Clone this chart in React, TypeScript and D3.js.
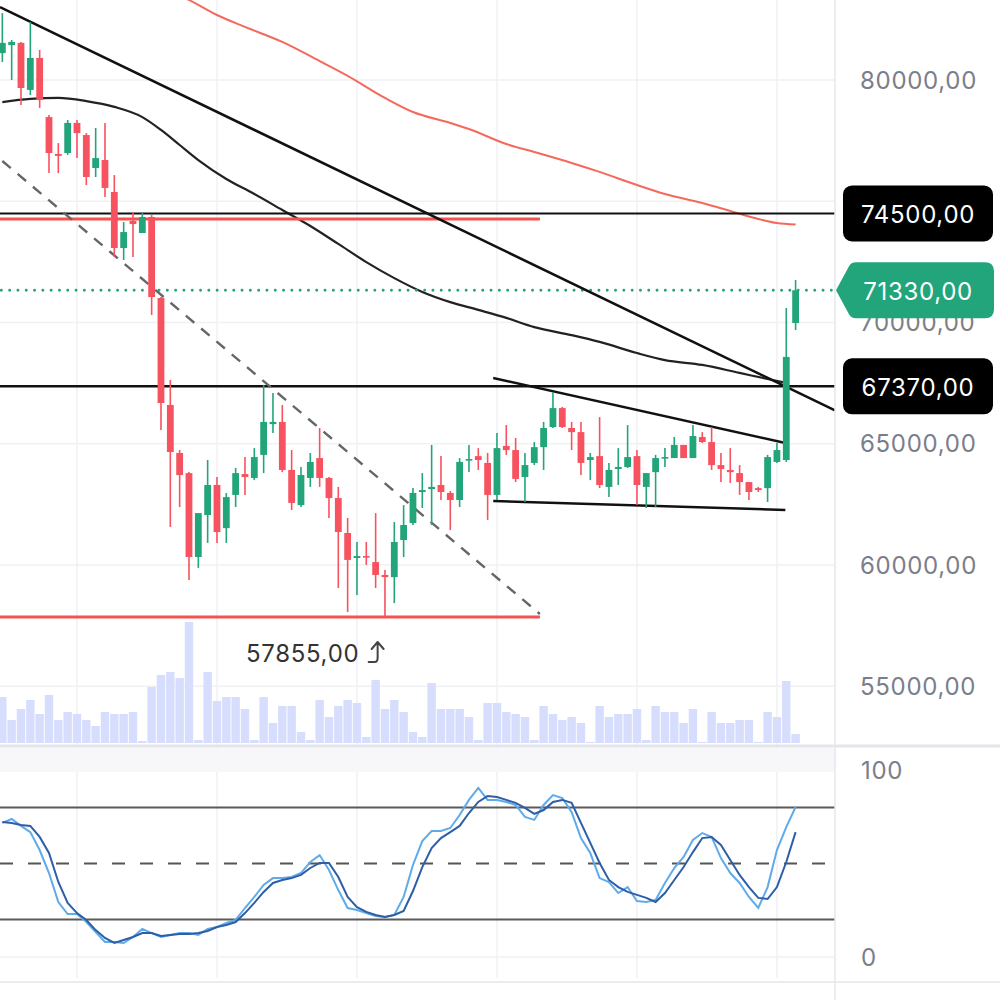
import React from 'react';
import * as d3 from 'd3';

// candles (index 0 = first visible bar)
const opens = [81110, 81440, 81530, 79590, 80910, 78470, 76950, 76990, 78230, 77730, 76370, 76700, 75380, 73070, 74190, 73690, 74350, 71010, 66600, 64620, 63790, 60330, 62060, 63300, 61520, 62890, 63750, 63590, 64540, 65810, 65900, 63920, 62470, 63590, 64410, 63590, 62760, 61320, 60290, 60370, 60120, 59590, 59500, 61030, 61730, 63010, 63130, 63300, 62970, 62680, 64330, 64490, 64210, 62890, 64910, 64740, 63630, 64210, 64860, 65690, 66470, 65650, 65480, 64330, 64490, 63220, 63960, 64040, 64490, 63220, 63830, 64410, 64410, 64950, 64410, 65280, 65070, 64120, 63920, 63790, 63420, 63170, 63170, 64250, 64330, 69980];
const highs = [82760, 81650, 81570, 82390, 81240, 78560, 77400, 78350, 78350, 77810, 78020, 78230, 76080, 74140, 74560, 74520, 74430, 71050, 67630, 64740, 63830, 62140, 64330, 63630, 62970, 64000, 64450, 64820, 67430, 67090, 66600, 64740, 64040, 64620, 65650, 63630, 63220, 61940, 60950, 60950, 62140, 59790, 61770, 62470, 63180, 63790, 64950, 64490, 63050, 64410, 64950, 64820, 64620, 65440, 65770, 65240, 64620, 65070, 65900, 67130, 66520, 65900, 65900, 64620, 66100, 64210, 64820, 65770, 64740, 63790, 64540, 64820, 65280, 64950, 65770, 65480, 65690, 64620, 64820, 64120, 63420, 63220, 64540, 65030, 70600, 71750];
const lows = [80740, 80000, 78970, 79380, 78850, 76160, 76160, 76910, 76780, 75670, 76000, 75180, 72700, 72580, 72700, 73690, 70310, 65570, 61570, 62390, 59380, 59880, 60910, 60910, 60910, 62390, 62890, 63500, 63790, 65440, 63830, 62270, 62390, 63220, 63220, 61940, 59050, 58060, 58760, 60000, 59050, 57855, 58430, 60330, 61650, 62350, 61650, 62680, 61440, 62390, 63830, 63920, 61860, 62680, 64540, 63420, 62600, 64120, 63920, 65650, 65650, 64740, 63710, 63500, 63170, 62800, 63300, 64000, 62470, 62350, 62390, 64040, 64410, 64410, 64410, 65030, 63920, 63420, 63380, 62890, 62680, 63010, 62600, 64210, 64250, 69690];
const closes = [81530, 81570, 79670, 80910, 79180, 76990, 76870, 78230, 77810, 76000, 76780, 75550, 73070, 73730, 74060, 74350, 71050, 66680, 64660, 63710, 60330, 62140, 63300, 61360, 62800, 63790, 63630, 64450, 65900, 65900, 63920, 62560, 63710, 64250, 63590, 62760, 61360, 60210, 60370, 60330, 59590, 59500, 60950, 61650, 62970, 63090, 63220, 63010, 62680, 64250, 64370, 64330, 62890, 64820, 64740, 63550, 64120, 64860, 65650, 66470, 65690, 65480, 64210, 64450, 63300, 63920, 64040, 64450, 63300, 63790, 64410, 64450, 64950, 64410, 65320, 65070, 64120, 63960, 63830, 63420, 63010, 63090, 64450, 64740, 68580, 71330];
const volumes = [46, 23, 34, 43, 29, 48, 23, 31, 29, 23, 17, 31, 29, 29, 31, 2, 56, 68, 71, 65, 121, 3, 71, 42, 46, 46, 34, 3, 46, 20, 37, 37, 11, 3, 43, 26, 37, 43, 40, 6, 63, 34, 43, 31, 11, 6, 60, 34, 34, 34, 26, 3, 40, 40, 31, 29, 26, 3, 37, 29, 23, 26, 20, 1, 37, 26, 29, 29, 34, 3, 37, 31, 31, 20, 34, 1, 31, 20, 20, 23, 23, 1, 31, 26, 62, 9];

// stochastic %K and %D
const stochK = [71.7, 73.8, 70.1, 66.8, 57.2, 44.9, 29.4, 23, 23, 18.7, 13.4, 8, 8, 7.5, 10.7, 15, 12.8, 10.7, 11.8, 12.8, 12.8, 11.8, 15, 16, 18.2, 19.8, 26.2, 32.1, 38.5, 42.2, 42.2, 42.8, 44.9, 50.8, 54.5, 46.5, 35.8, 26.2, 25.1, 23.5, 21.9, 21.4, 22.5, 32.1, 49.2, 62, 67.4, 67.4, 69, 75.9, 84, 90.4, 84, 84, 82.9, 81.3, 74.9, 73.3, 81.3, 86.6, 85, 77.5, 63.6, 55.6, 42.2, 40.1, 34.2, 37.4, 29.9, 29.4, 30.5, 39.6, 47.6, 53.5, 62.6, 66.3, 64.2, 52.9, 44.9, 39.6, 32.1, 26.2, 37.4, 57.2, 69.5, 80.2];
const stochD = [72.2, 71.7, 70.6, 70.1, 64.2, 55.6, 40.1, 28.9, 23.5, 19.8, 14.4, 10.2, 7.5, 9.1, 10.7, 12.8, 12.8, 11.2, 11.8, 12.3, 12.3, 12.8, 13.9, 16, 17.1, 18.7, 23.5, 28.9, 34.8, 39.6, 41.2, 42.2, 43.9, 47.6, 50.3, 50.3, 42.8, 32.1, 26.7, 24.1, 22.5, 21.4, 22.5, 24.6, 35.3, 48.1, 58.3, 63.6, 66.8, 70.1, 77, 82.9, 86.1, 85.6, 84, 82.4, 79.7, 76.5, 78.6, 82.9, 84, 82.4, 71.7, 61, 50.3, 41.2, 37.4, 34.8, 33.2, 31.6, 29.4, 34.2, 41.2, 48.1, 56.1, 63.6, 64.2, 59.9, 51.9, 43.9, 37.4, 31.6, 31, 37.4, 50.8, 66.8];

// moving averages, sampled at some bars
const redMaIdx = [18, 20, 23, 26, 30, 34, 37, 41, 44, 48, 50, 54, 57, 61, 64, 68, 71, 75, 78, 81, 83, 85];
const redMaVals = [83670, 83300, 82680, 82190, 81570, 80780, 80170, 79260, 78680, 78230, 77980, 77360, 77030, 76580, 76210, 75670, 75300, 74930, 74600, 74270, 74100, 74040];
const blackMaIdx = [0, 3, 6, 9, 12, 15, 17, 19, 21, 24, 27, 30, 33, 36, 39, 42, 45, 48, 51, 54, 57, 61, 64, 68, 71, 75, 79, 82, 84];
const blackMaVals = [79090, 79220, 79260, 79130, 78890, 78470, 77940, 77320, 76700, 75920, 75300, 74640, 73980, 73240, 72490, 71830, 71260, 70840, 70520, 70190, 69810, 69480, 69200, 68740, 68450, 68250, 67920, 67670, 67510];

// drawn lines: [startIdx, endIdx], [startPrice, endPrice]
const trendLongIdx = [0, 85];
const trendLongPrice = [82960, 67160];
const trendDashIdx = [0, 57.6];
const trendDashPrice = [76660, 57980];
const wedgeTopIdx = [52.6, 83.9];
const wedgeTopPrice = [67710, 65030];
const wedgeLowIdx = [52.6, 83.9];
const wedgeLowPrice = [62640, 62270];
const redLevels = [74270, 57855];
const redLevelEndIdx = 57.6;
const blackLevels = [74500, 67370];
const lastPrice = 71330;
const lowMark = 57855;

const priceTicks = [80000, 75000, 70000, 65000, 60000, 55000];
const hiddenTickLabels = [75000]; // covered by the 74500 tag
const stochTicks = [100, 0];
const stochBands = [80, 20];
const stochMid = 50;
const gridIdx = [8, 23, 38, 53, 68, 83];

const UP = '#22a57a';
const DOWN = '#f6525f';
const AXIS_TEXT = '#7b7e8a';
const FONT = 'Inter, Roboto, sans-serif';
const FS = 24;
const LS = 0.7;

const plotRight = 835;
const priceBottom = 745;

const x = d3.scaleLinear().domain([0, 85]).range([2.33, 795.6]);
const y = d3.scaleLinear().domain([80000, 60000]).range([80, 565]);
const yVol = d3.scaleLinear().domain([0, 125]).range([743, 618]);
const yStoch = d3.scaleLinear().domain([0, 100]).range([957, 770]);

const fmt = (v: number) => d3.format('.2f')(v).replace('.', ',');

const App = () => {
  const idx = d3.range(opens.length);

  const maLine = d3
    .line<[number, number]>()
    .x((d) => x(d[0]))
    .y((d) => y(d[1]))
    .curve(d3.curveMonotoneX);

  const redMa = maLine(redMaIdx.map((i, k) => [i, redMaVals[k]] as [number, number]));
  const blackMa = maLine(blackMaIdx.map((i, k) => [i, blackMaVals[k]] as [number, number]));

  const kPath = d3
    .line<number>()
    .x((i) => x(i))
    .y((i) => yStoch(stochK[i]))(idx);
  const dPath = d3
    .line<number>()
    .x((i) => x(i))
    .y((i) => yStoch(stochD[i]))(idx);

  // long trend line extended to the price axis
  const tx0 = x(trendLongIdx[0]);
  const ty0 = y(trendLongPrice[0]);
  const tx1 = x(trendLongIdx[1]);
  const ty1 = y(trendLongPrice[1]);
  const slope = (ty1 - ty0) / (tx1 - tx0);
  const longStart = ty0 + (0 - tx0) * slope;
  const longEnd = ty0 + (plotRight - tx0) * slope;

  const bodyW = 6.8;
  const volW = 8.4;
  const boxH = 56;

  // little "jump to" arrow after the low label
  const ax = x(40);
  const ay = y(lowMark) + 36;
  const arrow = `M ${ax - 7} ${ay + 9} L ${ax - 1} ${ay + 9} Q ${ax + 2} ${ay + 9} ${ax + 2} ${ay + 5} L ${ax + 2} ${ay - 10} M ${ax - 4} ${ay - 4} L ${ax + 2} ${ay - 11} L ${ax + 8} ${ay - 4}`;

  const ly = y(lastPrice);
  const tag = `M 836 ${ly} L 849 ${ly - boxH / 2 + 4} Q 851 ${ly - boxH / 2} 856 ${ly - boxH / 2} L 985 ${ly - boxH / 2} Q 994 ${ly - boxH / 2} 994 ${ly - boxH / 2 + 9} L 994 ${ly + boxH / 2 - 9} Q 994 ${ly + boxH / 2} 985 ${ly + boxH / 2} L 856 ${ly + boxH / 2} Q 851 ${ly + boxH / 2} 849 ${ly + boxH / 2 - 4} Z`;

  return (
    <div>
      <style>{`body{margin:0;background:#fff}`}</style>
      <svg width={1000} height={1000} viewBox="0 0 1000 1000" style={{ display: 'block', background: '#fff' }}>
        <defs>
          <clipPath id="pricePlot">
            <rect x={0} y={0} width={plotRight} height={priceBottom} />
          </clipPath>
          <clipPath id="stochPlot">
            <rect x={0} y={748} width={plotRight} height={235} />
          </clipPath>
        </defs>

        {/* grid */}
        {gridIdx.map((i) => (
          <line key={'vg' + i} x1={x(i)} x2={x(i)} y1={0} y2={978} stroke="#f0f1f5" strokeWidth={1.5} />
        ))}
        {priceTicks.map((t) => (
          <line key={'hg' + t} x1={0} x2={plotRight} y1={y(t)} y2={y(t)} stroke="#f0f1f5" strokeWidth={1.5} />
        ))}
        <rect x={0} y={748} width={plotRight} height={24} fill="#f7f7f9" />
        <line x1={0} x2={plotRight} y1={yStoch(0)} y2={yStoch(0)} stroke="#f0f1f5" strokeWidth={1.5} />

        {/* price pane */}
        <g clipPath="url(#pricePlot)">
          {idx.map((i) => (
            <rect
              key={'v' + i}
              x={x(i) - volW / 2}
              y={yVol(volumes[i])}
              width={volW}
              height={yVol(0) - yVol(volumes[i])}
              fill="#d7ddfc"
            />
          ))}

          <path d={redMa ?? ''} fill="none" stroke="#f4695c" strokeWidth={2} />
          <path d={blackMa ?? ''} fill="none" stroke="#222" strokeWidth={2.2} />

          {redLevels.map((p) => (
            <line key={'rl' + p} x1={x(-1)} x2={x(redLevelEndIdx)} y1={y(p)} y2={y(p)} stroke="#f4534f" strokeWidth={3} />
          ))}
          {blackLevels.map((p, k) => (
            <line key={'bl' + p} x1={x(-1)} x2={plotRight} y1={y(p)} y2={y(p)} stroke="#111" strokeWidth={k === 0 ? 2 : 2.6} />
          ))}

          <line
            x1={x(-1)}
            x2={plotRight}
            y1={ly}
            y2={ly}
            stroke={UP}
            strokeWidth={2.8}
            strokeDasharray="0.1 8.2"
            strokeLinecap="round"
          />

          <line
            x1={x(trendDashIdx[0])}
            x2={x(trendDashIdx[1])}
            y1={y(trendDashPrice[0])}
            y2={y(trendDashPrice[1])}
            stroke="#666"
            strokeWidth={2.4}
            strokeDasharray="11 9"
          />
          <line x1={0} x2={plotRight} y1={longStart} y2={longEnd} stroke="#111" strokeWidth={2.6} />
          <line x1={x(wedgeTopIdx[0])} x2={x(wedgeTopIdx[1])} y1={y(wedgeTopPrice[0])} y2={y(wedgeTopPrice[1])} stroke="#111" strokeWidth={2.4} />
          <line x1={x(wedgeLowIdx[0])} x2={x(wedgeLowIdx[1])} y1={y(wedgeLowPrice[0])} y2={y(wedgeLowPrice[1])} stroke="#111" strokeWidth={2.4} />

          {idx.map((i) => {
            const up = closes[i] >= opens[i];
            const c = up ? UP : DOWN;
            const top = y(Math.max(opens[i], closes[i]));
            const bot = y(Math.min(opens[i], closes[i]));
            return (
              <g key={'c' + i}>
                <line x1={x(i)} x2={x(i)} y1={y(highs[i])} y2={y(lows[i])} stroke={c} strokeWidth={1.6} />
                <rect x={x(i) - bodyW / 2} y={top} width={bodyW} height={Math.max(bot - top, 1.6)} fill={c} />
              </g>
            );
          })}
        </g>

        <text
          x={x(26.1)}
          y={y(lowMark) + 36}
          fontFamily={FONT}
          fontSize={FS}
          letterSpacing={LS}
          fill="#333"
          dominantBaseline="central"
        >
          {fmt(lowMark)}
        </text>
        <path d={arrow} fill="none" stroke="#444" strokeWidth={2} strokeLinecap="round" strokeLinejoin="round" />

        {/* stochastic pane */}
        <g clipPath="url(#stochPlot)">
          {stochBands.map((b) => (
            <line key={'sb' + b} x1={0} x2={plotRight} y1={yStoch(b)} y2={yStoch(b)} stroke="#5a5a5a" strokeWidth={2} />
          ))}
          <line x1={0} x2={plotRight} y1={yStoch(stochMid)} y2={yStoch(stochMid)} stroke="#555" strokeWidth={2} strokeDasharray="13 15" />
          <path d={kPath ?? ''} fill="none" stroke="#5fabea" strokeWidth={2} />
          <path d={dPath ?? ''} fill="none" stroke="#2d5ea6" strokeWidth={2} />
        </g>

        {/* pane borders */}
        <line x1={0} x2={1000} y1={746} y2={746} stroke="#e4e5ea" strokeWidth={3} />
        <line x1={0} x2={1000} y1={982} y2={982} stroke="#ebecf0" strokeWidth={2} />
        <line x1={plotRight} x2={plotRight} y1={0} y2={1000} stroke="#e6e7ec" strokeWidth={1.5} />

        {/* axis labels */}
        {priceTicks
          .filter((t) => !hiddenTickLabels.includes(t))
          .map((t) => (
            <text
              key={'pt' + t}
              x={860}
              y={y(t)}
              fontFamily={FONT}
              fontSize={FS}
              letterSpacing={LS}
              fill={AXIS_TEXT}
              dominantBaseline="central"
            >
              {fmt(t)}
            </text>
          ))}
        {stochTicks.map((t) => (
          <text
            key={'st' + t}
            x={861}
            y={yStoch(t)}
            fontFamily={FONT}
            fontSize={FS}
            letterSpacing={LS}
            fill={AXIS_TEXT}
            dominantBaseline="central"
          >
            {t}
          </text>
        ))}

        {blackLevels.map((p) => (
          <g key={'bx' + p}>
            <rect x={843} y={y(p) - boxH / 2} width={150} height={boxH} rx={9} fill="#000" />
            <text
              x={918}
              y={y(p) + 1}
              fontFamily={FONT}
              fontSize={FS}
              letterSpacing={LS}
              fill="#fff"
              textAnchor="middle"
              dominantBaseline="central"
            >
              {fmt(p)}
            </text>
          </g>
        ))}
        <path d={tag} fill={UP} />
        <text
          x={918}
          y={ly + 1}
          fontFamily={FONT}
          fontSize={FS}
          letterSpacing={LS}
          fill="#fff"
          textAnchor="middle"
          dominantBaseline="central"
        >
          {fmt(lastPrice)}
        </text>
      </svg>
    </div>
  );
};

export default App;
